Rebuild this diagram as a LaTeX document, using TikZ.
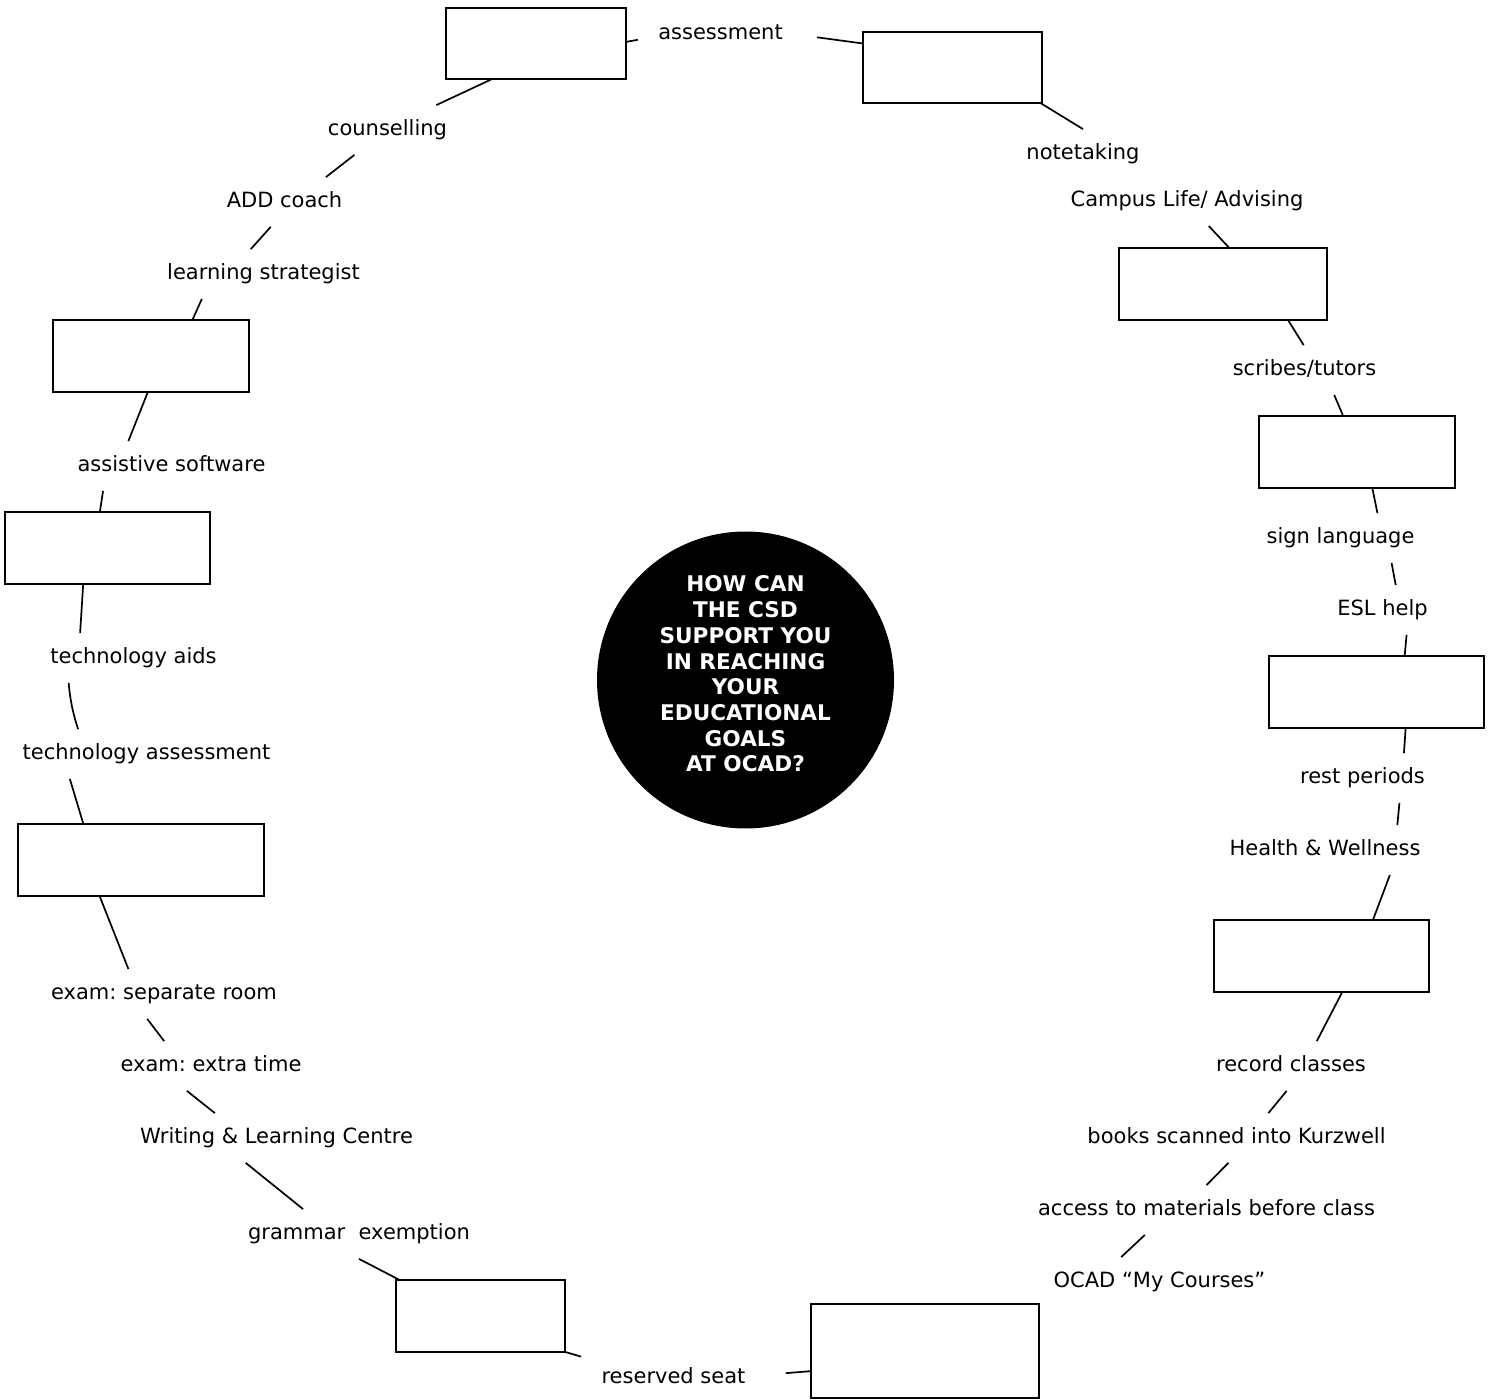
\documentclass[tikz,border=0pt]{standalone}
\usepackage{fontspec}
\setmainfont{DejaVu Sans}
\usepackage{tikz}
\frenchspacing

\begin{document}
\begin{tikzpicture}[x=0.5pt,y=-0.5pt,
		box/.style={draw,line width=1.4pt,inner sep=0pt,outer sep=0pt},
		item/.style={font=\fontsize{10.5}{12.6}\selectfont,inner xsep=10pt,inner ysep=7pt,text height=8pt,text depth=2.5pt},
		hub/.style={circle,fill=black,minimum size=148.5pt,inner sep=0pt},
		hubtext/.style={text=white,align=center,font=\fontsize{10.8}{12.86}\selectfont\bfseries},
		link/.style={line width=0.85pt}]
				\useasboundingbox (0,0) rectangle (1493,1400);
				
				\node[hub] (hub) at (745.5,680) {};
				\node[hubtext] (question) at (745.5,674) {HOW CAN\\THE CSD\\SUPPORT YOU\\IN REACHING\\YOUR\\EDUCATIONAL\\GOALS\\AT OCAD?};
				
				\node[box,minimum width=90pt,minimum height=35.5pt] (b1) at (536,43.5) {};
				\node[box,minimum width=89.5pt,minimum height=35.5pt] (b2) at (952.5,67.5) {};
				\node[box,minimum width=104pt,minimum height=36pt] (b3) at (1223,284) {};
				\node[box,minimum width=98pt,minimum height=36pt] (b4) at (1357,452) {};
				\node[box,minimum width=107.5pt,minimum height=36pt] (b5) at (1376.5,692) {};
				\node[box,minimum width=107.5pt,minimum height=36pt] (b6) at (1321.5,956) {};
				\node[box,minimum width=114pt,minimum height=47pt] (b7) at (925,1351) {};
				\node[box,minimum width=84.5pt,minimum height=36pt] (b8) at (480.5,1316) {};
				\node[box,minimum width=123pt,minimum height=36pt] (b9) at (141,860) {};
				\node[box,minimum width=102.5pt,minimum height=36pt] (b10) at (107.5,548) {};
				\node[box,minimum width=98pt,minimum height=36pt] (b11) at (151,356) {};
				
				\node[item] (assess) at (720.5,34) {assessment};
				\node[item] (notetake) at (1083,154) {notetaking};
				\node[item] (campus) at (1187,201) {Campus Life/ Advising};
				\node[item] (scribes) at (1304.5,370) {scribes/tutors};
				\node[item] (sign) at (1340.5,538) {sign language};
				\node[item] (esl) at (1382.5,610) {ESL help};
				\node[item] (rest) at (1362.5,778) {rest periods};
				\node[item] (health) at (1325,850) {Health \& Wellness};
				\node[item] (record) at (1291,1066) {record classes};
				\node[item] (books) at (1236.5,1138) {books scanned into Kurzwell};
				\node[item] (access) at (1206.5,1210) {access to materials before class};
				\node[item] (ocad) at (1159.5,1282) {OCAD “My Courses”};
				\node[item] (reserved) at (673.5,1378) {reserved seat};
				\node[item] (grammar) at (359,1234) {grammar\ \ exemption};
				\node[item] (writing) at (276.5,1138) {Writing \& Learning Centre};
				\node[item] (extra) at (211,1066) {exam: extra time};
				\node[item] (examsep) at (164,994) {exam: separate room};
				\node[item] (techass) at (146.5,754) {technology assessment};
				\node[item] (aids) at (133.5,658) {technology aids};
				\node[item] (assist) at (171.5,466) {assistive software};
				\node[item] (strat) at (263.5,274) {learning strategist};
				\node[item] (add) at (284.5,202) {ADD coach};
				\node[item] (counsel) at (387.5,130) {counselling};
				
				\draw[link] (b1.1) -- (assess.184);
				\draw[link,shorten <=7pt] (assess.-1) -- (b2.165);
				\draw[link] (b2.-22) -- (notetake.90);
				\draw[link] (campus.-49) -- (b3.80);
				\draw[link] (b3.-29) -- (scribes.92);
				\draw[link] (scribes.-40) -- (b4.111);
				\draw[link] (b4.-67) -- (sign.34);
				\draw[link] (sign.-26) -- (esl.62);
				\draw[link] (esl.-46) -- (b5.52);
				\draw[link] (b5.-51) -- (rest.31);
				\draw[link] (rest.-34) -- (health.19);
				\draw[link] (health.-21) -- (b6.35);
				\draw[link] (b6.-60) -- (record.44);
				\draw[link] (record.260) -- (books.38);
				\draw[link] (books.252) -- (access.90);
				\draw[link] (access.202) -- (ocad.147);
				\draw[link,shorten <=10pt] (reserved.2) -- (b7.190);
				\draw[link] (b8.-23) -- (reserved.167);
				\draw[link] (grammar.270) -- (b8.156);
				\draw[link] (writing.219) -- (grammar.156);
				\draw[link] (extra.226) -- (writing.158);
				\draw[link] (examsep.236) -- (extra.152);
				\draw[link] (b9.221) -- (examsep.145);
				\draw[link] (techass.198) -- (b9.148);
				\draw[link] (aids.201) to[bend right=6] (techass.160);
				\draw[link] (b10.236) -- (aids.155);
				\draw[link] (assist.200) -- (b10.102);
				\draw[link] (b11.265) -- (assist.150);
				\draw[link] (strat.202) -- (b11.41);
				\draw[link] (add.241) -- (strat.117);
				\draw[link] (counsel.217) -- (add.31);
				\draw[link] (b1.219) -- (counsel.27);
			\end{tikzpicture}
\end{document}
